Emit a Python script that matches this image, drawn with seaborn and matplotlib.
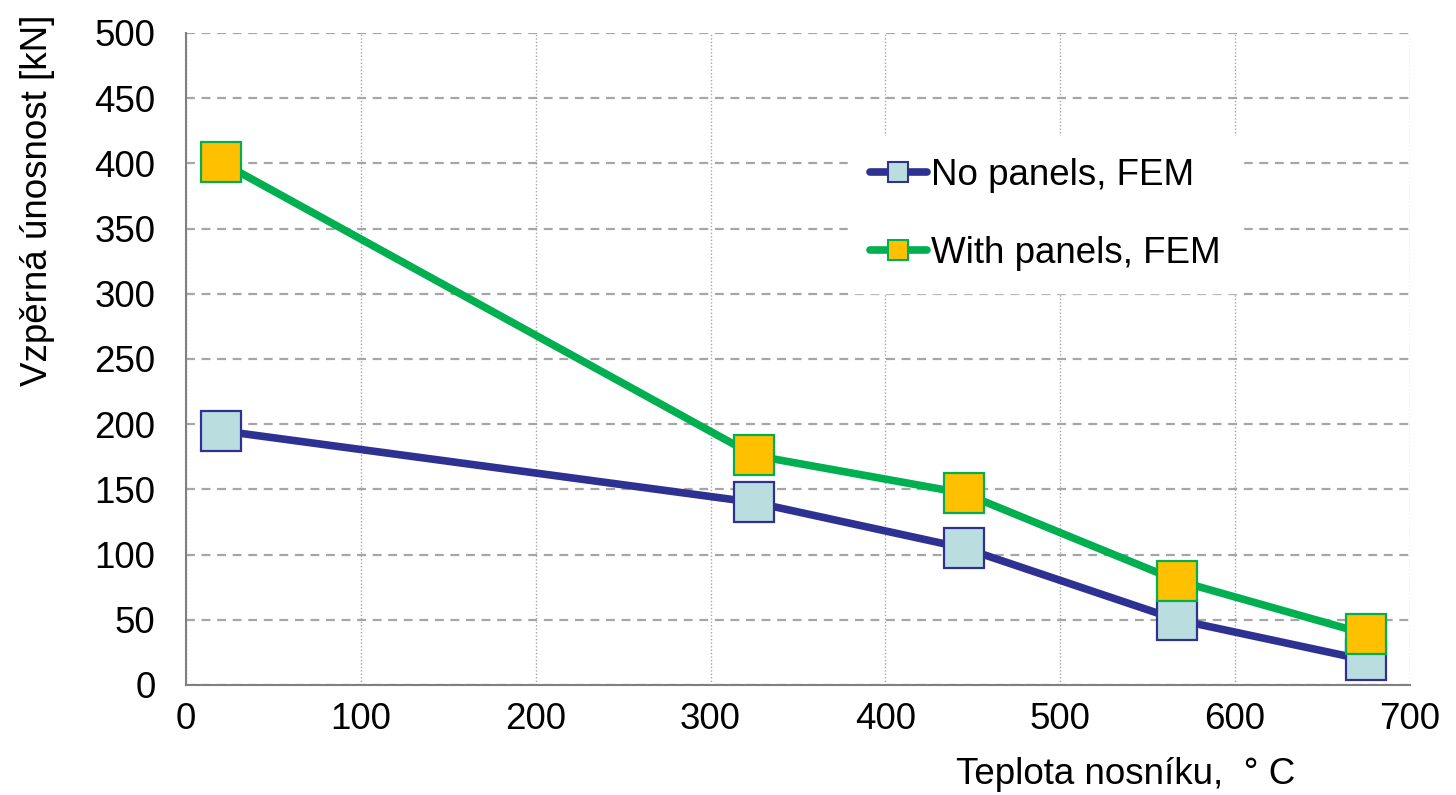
import matplotlib
matplotlib.use("Agg")
import matplotlib.pyplot as plt
import seaborn as sns
import pandas as pd
from matplotlib.lines import Line2D

temps = [20, 325, 445, 567, 675]
no_panels = [195, 140, 105, 50, 19]
with_panels = [401, 176, 147, 80, 39]
series_names = ["No panels, FEM", "With panels, FEM"]
x_ticks = [0, 100, 200, 300, 400, 500, 600, 700]
y_ticks = [0, 50, 100, 150, 200, 250, 300, 350, 400, 450, 500]

sns.set_theme(style="white")
plt.rcParams['font.family'] = ['Liberation Sans', 'DejaVu Sans']
plt.rcParams['text.color'] = 'black'
plt.rcParams['axes.labelcolor'] = 'black'

df = pd.DataFrame({
    "x": temps * 2,
    "y": no_panels + with_panels,
    "s": [series_names[0]] * len(temps) + [series_names[1]] * len(temps),
})

line_cols = {series_names[0]: "#2E3192", series_names[1]: "#00B050"}
fill_cols = {series_names[0]: "#BADDE0", series_names[1]: "#FFC000"}

FS = 26.5

fig = plt.figure(figsize=(14.56, 7.95), dpi=100)
ax = fig.add_axes([0.1277, 0.1384, 0.8407, 0.8201])

for name in series_names:
    sub = df[df.s == name]
    sns.lineplot(data=sub, x="x", y="y", ax=ax, color=line_cols[name], lw=5.5,
                 marker="s", markersize=28.5, markerfacecolor=fill_cols[name],
                 markeredgecolor=line_cols[name], markeredgewidth=1.6,
                 legend=False, zorder=3, clip_on=False)

ax.set_xlim(0, 700)
ax.set_ylim(0, 500)
ax.set_xticks(x_ticks)
ax.set_yticks(y_ticks)
ax.tick_params(axis='both', labelsize=FS, labelcolor="black", length=0)
ax.tick_params(axis='y', pad=22)
ax.tick_params(axis='x', pad=12)
ax.grid(axis='y', color="#A6A6A6", linestyle=(0, (4, 3)), lw=1.6)
ax.grid(axis='x', color="#A6A6A6", linestyle=(0, (1, 1.5)), lw=1.0)
ax.set_axisbelow(True)
for sp in ["top", "right"]:
    ax.spines[sp].set_visible(False)
for sp in ["left", "bottom"]:
    ax.spines[sp].set_color("#808080")
    ax.spines[sp].set_linewidth(1.5)

ax.set_xlabel("Teplota nosníku,  ° C", fontsize=FS)
ax.xaxis.label.set_va("center")
ax.xaxis.set_label_coords(0.768, -0.138)
ax.set_ylabel("Vzpěrná únosnost [kN]", fontsize=FS)
ax.yaxis.label.set_va("center")
ax.yaxis.set_label_coords(-0.121, 0.744)

handles = [Line2D([], [], color=line_cols[n], lw=5.5, marker="s", markersize=15,
                  markerfacecolor=fill_cols[n], markeredgecolor=line_cols[n],
                  markeredgewidth=1.5) for n in series_names]
leg = ax.legend(handles, series_names, loc="upper left", bbox_to_anchor=(0.5405, 0.842),
                fontsize=FS, frameon=True, framealpha=1, edgecolor="white",
                handlelength=1.55, handletextpad=0.12, labelspacing=1.175,
                borderpad=0.6, borderaxespad=0, fancybox=False)
leg.set_zorder(2)

fig.savefig("out.png", dpi=100, facecolor="white")
